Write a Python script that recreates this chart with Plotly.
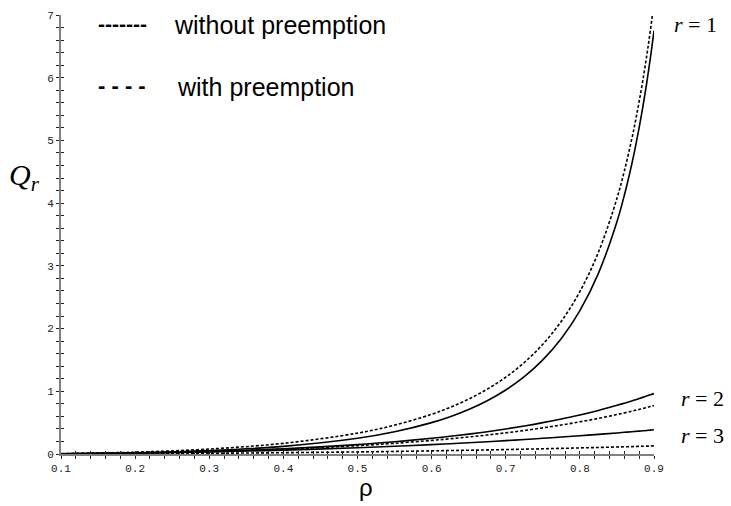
import plotly.graph_objects as go

rho = [0.1, 0.2, 0.3, 0.4, 0.5, 0.55, 0.6, 0.625, 0.65, 0.675, 0.7, 0.725, 0.75, 0.775, 0.8,
       0.825, 0.85, 0.86, 0.87, 0.875, 0.88, 0.885, 0.89, 0.895, 0.9]

# without preemption (solid)
q1_np = [0.004, 0.019, 0.054, 0.121, 0.25, 0.354, 0.50, 0.595, 0.710, 0.850, 1.021, 1.233, 1.50, 1.841, 2.286,
         2.881, 3.705, 4.127, 4.621, 4.90, 5.204, 5.537, 5.902, 6.305, 6.75]
q2_np = [0.004, 0.016, 0.042, 0.084, 0.15, 0.195, 0.25, 0.282, 0.317, 0.356, 0.399, 0.447, 0.50, 0.559, 0.623,
         0.695, 0.776, 0.810, 0.846, 0.865, 0.884, 0.903, 0.923, 0.943, 0.964]
q3_np = [0.003, 0.014, 0.033, 0.062, 0.10, 0.123, 0.15, 0.164, 0.180, 0.196, 0.213, 0.231, 0.25, 0.270, 0.291,
         0.313, 0.336, 0.346, 0.355, 0.360, 0.365, 0.370, 0.375, 0.381, 0.386]

# with preemption (dashed)
q1_p = [0.006, 0.029, 0.079, 0.170, 0.333, 0.460, 0.633, 0.744, 0.876, 1.034, 1.225, 1.459, 1.75, 2.117, 2.590,
        3.217, 4.076, 4.512, 5.021, 5.308, 5.621, 5.962, 6.335, 6.746, 7.2]
q2_p = [0.004, 0.016, 0.039, 0.076, 0.133, 0.171, 0.217, 0.243, 0.271, 0.303, 0.337, 0.375, 0.417, 0.462, 0.513,
        0.568, 0.629, 0.655, 0.683, 0.697, 0.711, 0.726, 0.741, 0.756, 0.771]
q3_p = [0.001, 0.005, 0.011, 0.021, 0.033, 0.041, 0.050, 0.055, 0.060, 0.065, 0.071, 0.077, 0.083, 0.090, 0.097,
        0.104, 0.112, 0.115, 0.118, 0.120, 0.122, 0.123, 0.125, 0.127, 0.129]

x_ticks = [0.1, 0.2, 0.3, 0.4, 0.5, 0.6, 0.7, 0.8, 0.9]
y_ticks = [0, 1, 2, 3, 4, 5, 6, 7]

fig = go.Figure()
for ys in [q1_np, q2_np, q3_np]:
    fig.add_trace(go.Scatter(x=rho, y=ys, mode="lines", line=dict(color="black", width=1.6, shape="spline"),
                             showlegend=False, hoverinfo="skip"))
for ys in [q1_p, q2_p, q3_p]:
    fig.add_trace(go.Scatter(x=rho, y=ys, mode="lines",
                             line=dict(color="black", width=1.6, dash="3px,2px", shape="spline"),
                             showlegend=False, hoverinfo="skip"))
# invisible trace so the overlay axes (inside ticks) are drawn
fig.add_trace(go.Scatter(x=[0.5], y=[1], xaxis="x2", yaxis="y2", mode="markers",
                         marker=dict(opacity=0), showlegend=False, hoverinfo="skip"))

tickfont = dict(family="Liberation Mono", size=11, color="#222")
fig.update_layout(
    width=731, height=506,
    margin=dict(l=61, r=77, t=10, b=52),
    plot_bgcolor="white", paper_bgcolor="white",
    xaxis=dict(range=[0.1, 0.9], tickvals=x_ticks, ticktext=[f"{v:.1f}" for v in x_ticks],
               showgrid=False, zeroline=False, showline=True, linecolor="#808080", linewidth=1.5,
               ticks="outside", ticklen=3, tickcolor="#222", tickwidth=1, tickfont=tickfont,
               minor=dict(dtick=0.02, tick0=0.1, ticks="outside", ticklen=3, tickcolor="#222", tickwidth=1)),
    yaxis=dict(range=[0, 7], tickvals=y_ticks, showgrid=False, zeroline=False, showline=True,
               linecolor="#808080", linewidth=2, ticks="outside", ticklen=3, tickcolor="#222", tickwidth=1,
               tickfont=tickfont,
               minor=dict(dtick=0.2, tick0=0, ticks="outside", ticklen=3, tickcolor="#222", tickwidth=1)),
    xaxis2=dict(overlaying="x", matches="x", anchor="y2", showgrid=False, zeroline=False, showline=False,
                showticklabels=False, tickvals=x_ticks, ticks="inside", ticklen=3, tickcolor="#222",
                minor=dict(dtick=0.02, tick0=0.1, ticks="inside", ticklen=3, tickcolor="#222")),
    yaxis2=dict(overlaying="y", matches="y", anchor="x2", side="left", showgrid=False, zeroline=False,
                showline=False, showticklabels=False, tickvals=y_ticks, ticks="inside", ticklen=3,
                tickcolor="#222",
                minor=dict(dtick=0.2, tick0=0, ticks="inside", ticklen=3, tickcolor="#222")),
)

serif = "Liberation Serif"
sans = "Liberation Sans"
ann = [
    dict(text="<i>Q<sub>r</sub></i>", x=-0.062, y=0.631, font=dict(family=serif, size=30, color="black"),
         xanchor="center", yanchor="middle"),
    dict(text="ρ", x=0.514, y=-0.077, font=dict(family=sans, size=24, color="black"),
         xanchor="center", yanchor="middle"),
    dict(text="<i>r</i> = 1", x=1.030, y=0.979, font=dict(family=serif, size=22, color="black"),
         xanchor="left", yanchor="middle"),
    dict(text="<i>r</i> = 2", x=1.042, y=0.126, font=dict(family=serif, size=22, color="black"),
         xanchor="left", yanchor="middle"),
    dict(text="<i>r</i> = 3", x=1.042, y=0.043, font=dict(family=serif, size=22, color="black"),
         xanchor="left", yanchor="middle"),
    dict(text="<b>-------</b>", x=0.059, y=0.980, font=dict(family=sans, size=21, color="black"),
         xanchor="left", yanchor="middle"),
    dict(text="without preemption", x=0.187, y=0.9775, font=dict(family=sans, size=25, color="black"),
         xanchor="left", yanchor="middle"),
    dict(text="<b>- - - -</b>", x=0.059, y=0.840, font=dict(family=sans, size=22, color="black"),
         xanchor="left", yanchor="middle"),
    dict(text="with preemption", x=0.192, y=0.8356, font=dict(family=sans, size=25, color="black"),
         xanchor="left", yanchor="middle"),
]
for a in ann:
    fig.add_annotation(xref="paper", yref="paper", showarrow=False, **a)

fig.write_html("out.html", config={"displayModeBar": False},
               post_script="document.body.style.margin='0';document.body.style.overflow='hidden';")
